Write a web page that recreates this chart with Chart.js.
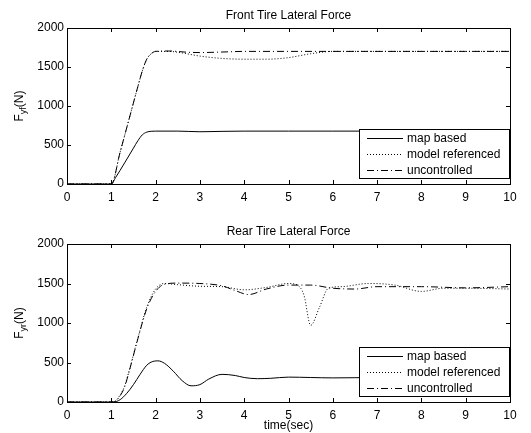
<!DOCTYPE html>
<html>
<head>
<meta charset="utf-8">
<script src="https://cdn.jsdelivr.net/npm/chart.js@4.4.0/dist/chart.umd.min.js"></script>
<style>
  body { margin: 0; background: #fff; }
  canvas { display: block; }
</style>
</head>
<body>
<canvas id="front" width="531" height="216"></canvas>
<canvas id="rear" width="531" height="217"></canvas>
<script>
// front tire lateral force (N) vs time (s)
const frontMapT = [0, 1, 1.1, 1.3, 1.5, 1.6, 1.7, 1.8, 1.9, 2.0, 2.5, 3.0, 3.5, 4, 5, 6, 7, 8, 9, 10];
const frontMapF = [0, 0, 85, 270, 460, 555, 630, 665, 676, 678, 678, 670, 675, 678, 678, 678, 678, 678, 678, 678];
const frontModelT = [0, 1, 1.2, 1.4, 1.6, 1.7, 1.8, 1.9, 2.0, 2.3, 2.6, 3.0, 3.5, 4.0, 4.5, 5.0, 5.5, 6.0, 7, 8, 9, 10];
const frontModelF = [0, 0, 410, 830, 1250, 1450, 1600, 1670, 1700, 1700, 1680, 1640, 1610, 1600, 1600, 1620, 1670, 1700, 1700, 1700, 1700, 1700];
const frontUncT = [0, 1, 1.2, 1.4, 1.6, 1.7, 1.8, 1.9, 2.0, 2.3, 2.7, 3.0, 3.5, 4.0, 5, 6, 7, 8, 9, 10];
const frontUncF = [0, 0, 410, 830, 1250, 1450, 1600, 1670, 1700, 1705, 1690, 1685, 1692, 1700, 1700, 1700, 1700, 1700, 1700, 1700];

// rear tire lateral force (N) vs time (s)
const rearMapT = [0, 1.05, 1.2, 1.35, 1.5, 1.65, 1.8, 1.9, 2.05, 2.2, 2.4, 2.6, 2.8, 3.0, 3.2, 3.5, 3.8, 4.0, 4.3, 4.6, 5.0, 5.5, 6, 7, 8, 9, 10];
const rearMapF = [0, 0, 30, 110, 220, 350, 465, 505, 521, 490, 390, 270, 205, 220, 290, 350, 335, 310, 295, 300, 315, 310, 305, 310, 310, 310, 310];
const rearModelT = [0, 1.05, 1.2, 1.3, 1.4, 1.6, 1.8, 2.0, 2.2, 2.5, 3.0, 3.5, 4.0, 4.5, 5.0, 5.2, 5.35, 5.5, 5.7, 5.9, 6.2, 6.8, 7.4, 8.0, 8.5, 9.0, 10];
const rearModelF = [0, 0, 90, 200, 390, 810, 1200, 1430, 1500, 1485, 1465, 1460, 1420, 1450, 1500, 1480, 1350, 970, 1200, 1440, 1460, 1500, 1480, 1400, 1440, 1440, 1430];
const rearUncT = [0, 1.05, 1.2, 1.3, 1.4, 1.6, 1.8, 2.0, 2.2, 2.5, 3.0, 3.5, 3.8, 4.1, 4.5, 5.0, 5.5, 6.0, 6.5, 7.0, 8, 9, 10];
const rearUncF = [0, 0, 80, 190, 380, 800, 1180, 1400, 1490, 1505, 1500, 1470, 1410, 1360, 1430, 1480, 1480, 1440, 1430, 1460, 1460, 1445, 1460];

const seriesNames = ["map based", "model referenced", "uncontrolled"];
const seriesDash = [[], [1, 2], [7, 3, 1, 3]];
const FONT = "'Liberation Sans', Arial, Helvetica, sans-serif";

function pts(t, f) {
  return t.map((x, i) => ({ x: x, y: f[i] }));
}

// title centred over the axes, box with inward ticks on all four sides
const framePlugin = {
  id: "frame",
  afterDraw(chart, args, opts) {
    const ctx = chart.ctx;
    const a = chart.chartArea;
    const xs = chart.scales.x, ys = chart.scales.y;
    ctx.save();
    ctx.fillStyle = "#000";
    ctx.font = "12px " + FONT;
    ctx.textAlign = "center";
    ctx.textBaseline = "middle";
    ctx.fillText(opts.title, (a.left + a.right) / 2, a.top - 12);

    ctx.strokeStyle = "#000";
    ctx.lineWidth = 1;
    ctx.beginPath();
    xs.ticks.forEach(t => {
      const px = Math.round(xs.getPixelForValue(t.value)) + 0.5;
      ctx.moveTo(px, a.bottom); ctx.lineTo(px, a.bottom - 4);
      ctx.moveTo(px, a.top); ctx.lineTo(px, a.top + 4);
    });
    ys.ticks.forEach(t => {
      const py = Math.round(ys.getPixelForValue(t.value)) + 0.5;
      ctx.moveTo(a.left, py); ctx.lineTo(a.left + 4, py);
      ctx.moveTo(a.right, py); ctx.lineTo(a.right - 4, py);
    });
    ctx.stroke();
    ctx.strokeRect(Math.round(a.left) + 0.5, Math.round(a.top) + 0.5,
      Math.round(a.right - a.left), Math.round(a.bottom - a.top));
    ctx.restore();
  }
};

// y label with subscript, e.g. F_yf(N)
const yLabelPlugin = {
  id: "ylabel",
  afterDraw(chart, args, opts) {
    const ctx = chart.ctx;
    const a = chart.chartArea;
    ctx.save();
    ctx.translate(20, (a.top + a.bottom) / 2);
    ctx.rotate(-Math.PI / 2);
    ctx.fillStyle = "#000";
    ctx.textBaseline = "middle";
    ctx.font = "12px " + FONT;
    const w1 = ctx.measureText("F").width;
    const w3 = ctx.measureText("(N)").width;
    ctx.font = "9px " + FONT;
    const w2 = ctx.measureText(opts.sub).width;
    let x = -(w1 + w2 + w3) / 2;
    ctx.font = "12px " + FONT;
    ctx.fillText("F", x, 0);
    x += w1;
    ctx.font = "9px " + FONT;
    ctx.fillText(opts.sub, x, 4);
    x += w2;
    ctx.font = "12px " + FONT;
    ctx.fillText("(N)", x, 0);
    ctx.restore();
  }
};

// legend box in the lower right of the axes
const legendBoxPlugin = {
  id: "legendBox",
  afterDraw(chart) {
    const ctx = chart.ctx;
    const a = chart.chartArea;
    const w = 150, h = 49;
    const bx = Math.round(a.right) - 1 - w;
    const by = Math.round(a.bottom) - 6 - h;
    ctx.save();
    ctx.fillStyle = "#fff";
    ctx.fillRect(bx, by, w, h);
    ctx.strokeStyle = "#000";
    ctx.lineWidth = 1;
    ctx.strokeRect(bx + 0.5, by + 0.5, w, h);
    ctx.font = "12px " + FONT;
    ctx.textBaseline = "middle";
    ctx.fillStyle = "#000";
    seriesNames.forEach((name, i) => {
      const y = by + 9 + i * 16 + 0.5;
      ctx.setLineDash(seriesDash[i]);
      ctx.beginPath();
      ctx.moveTo(bx + 8, y);
      ctx.lineTo(bx + 44, y);
      ctx.stroke();
      ctx.setLineDash([]);
      ctx.fillText(name, bx + 48, y);
    });
    ctx.restore();
  }
};

function makeChart(id, title, sub, series, xTitle) {
  const ctx = document.getElementById(id).getContext("2d");
  return new Chart(ctx, {
    type: "line",
    data: {
      datasets: series.map((s, i) => ({
        label: seriesNames[i],
        data: s,
        borderColor: "#000",
        borderWidth: 1,
        borderDash: seriesDash[i],
        pointRadius: 0,
        fill: false,
        cubicInterpolationMode: "monotone"
      }))
    },
    options: {
      responsive: false,
      animation: false,
      layout: { padding: { left: 0, right: 21, top: 28, bottom: 0 } },
      plugins: {
        legend: { display: false },
        tooltip: { enabled: false },
        title: { display: false },
        frame: { title: title },
        ylabel: { sub: sub }
      },
      scales: {
        x: {
          type: "linear",
          min: 0,
          max: 10,
          ticks: { stepSize: 1, color: "#000", padding: 6, maxRotation: 0, font: { family: FONT, size: 12 } },
          grid: { display: false, drawTicks: false },
          border: { display: false },
          title: {
            display: !!xTitle,
            text: xTitle || "",
            color: "#000",
            font: { family: FONT, size: 12 },
            padding: { top: 0, bottom: 0 }
          },
          afterFit(scale) { scale.height = xTitle ? 31 : 32; }
        },
        y: {
          min: 0,
          max: 2000,
          ticks: {
            stepSize: 500, color: "#000", padding: 3, font: { family: FONT, size: 12 },
            callback: v => String(v)
          },
          grid: { display: false, drawTicks: false },
          border: { display: false },
          afterFit(scale) { scale.width = 67; }
        }
      }
    },
    plugins: [framePlugin, yLabelPlugin, legendBoxPlugin]
  });
}

makeChart("front", "Front Tire Lateral Force", "yf",
  [pts(frontMapT, frontMapF), pts(frontModelT, frontModelF), pts(frontUncT, frontUncF)], null);
makeChart("rear", "Rear Tire Lateral Force", "yr",
  [pts(rearMapT, rearMapF), pts(rearModelT, rearModelF), pts(rearUncT, rearUncF)], "time(sec)");
</script>
</body>
</html>
